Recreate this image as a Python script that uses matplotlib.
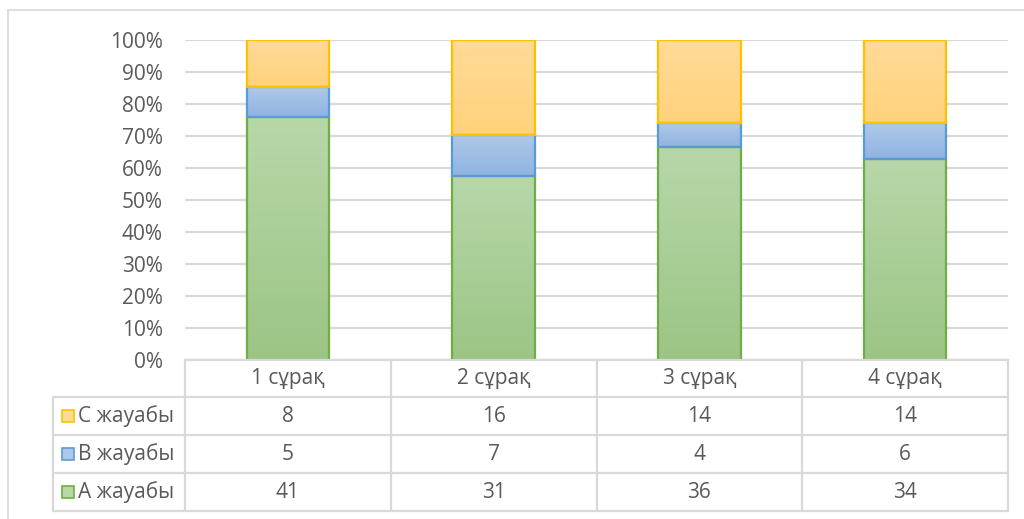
import numpy as np
import matplotlib
matplotlib.use("Agg")
import matplotlib.pyplot as plt
from matplotlib.lines import Line2D
from matplotlib.colors import LinearSegmentedColormap
from matplotlib.transforms import blended_transform_factory

plt.rcParams['font.family'] = ['Open Sans', 'Noto Sans', 'DejaVu Sans']

# data
categories = ['1 сұрақ', '2 сұрақ', '3 сұрақ', '4 сұрақ']
series_names = ['А жауабы', 'В жауабы', 'С жауабы']
a_counts = [41, 31, 36, 34]
b_counts = [5, 7, 4, 6]
c_counts = [8, 16, 14, 14]

# styles: (gradient top, gradient bottom, edge)
styles = {
    'А жауабы': ('#b7d7a9', '#9cc585', '#70ad47'),
    'В жауабы': ('#aec9e8', '#8fb3e2', '#5b9bd5'),
    'С жауабы': ('#ffda98', '#ffd27c', '#ffc000'),
}
text_col = '#595959'
line_col = '#d9d9d9'
fs = 15

W, H = 1024, 519
fig = plt.figure(figsize=(W / 100, H / 100), dpi=100)

def fx(px):
    return px / W

def fy(py):
    return 1 - py / H

# chart frame
fig.add_artist(Line2D([fx(8), 1], [fy(10), fy(10)], color=line_col, lw=1.2, transform=fig.transFigure))
fig.add_artist(Line2D([fx(8), fx(8)], [fy(10), 0], color=line_col, lw=1.2, transform=fig.transFigure))

ax_l, ax_r, ax_t, ax_b = 185, 1008, 40, 360
ax = fig.add_axes([fx(ax_l), fy(ax_b), fx(ax_r - ax_l), fy(ax_t) - fy(ax_b)])

counts = np.array([a_counts, b_counts, c_counts], dtype=float)
shares = counts / counts.sum(axis=0)
x = np.arange(len(categories))
bar_w = 0.40

bottom = np.zeros(len(categories))
for name, vals in zip(series_names, shares):
    top_c, bot_c, edge_c = styles[name]
    cmap = LinearSegmentedColormap.from_list(name, [bot_c, top_c])
    bars = ax.bar(x, vals, bar_w, bottom=bottom, facecolor='none', edgecolor=edge_c,
                  linewidth=1.6, zorder=3)
    for b in bars:
        x0, y0 = b.get_x(), b.get_y()
        img = ax.imshow(np.linspace(0, 1, 64).reshape(-1, 1), cmap=cmap, origin='lower',
                        extent=[x0, x0 + b.get_width(), y0, y0 + b.get_height()],
                        aspect='auto', zorder=2)
        img.set_clip_path(b)
    bottom += vals

ax.set_xlim(-0.5, len(categories) - 0.5)
ax.set_ylim(0, 1)
ax.set_yticks(np.arange(0, 1.01, 0.1))
ax.set_yticklabels([f'{int(round(v * 100))}%' for v in np.arange(0, 1.01, 0.1)])
ax.tick_params(axis='y', length=0, pad=16, labelsize=fs, labelcolor=text_col)
ax.set_xticks([])
ax.grid(axis='y', color=line_col, lw=1.6, zorder=0)
for s in ax.spines.values():
    s.set_visible(False)
ax.set_axisbelow(True)

# data table under the chart
trans = blended_transform_factory(ax.transData, fig.transFigure)
row_edges = [360, 397, 435, 473, 511]
left_px = 53
x_left = -0.5 - (ax_l - left_px) / ((ax_r - ax_l) / len(categories))
x_right = len(categories) - 0.5

kw = dict(color=line_col, lw=1.6, transform=trans, clip_on=False)
fig.add_artist(Line2D([-0.5, x_right], [fy(row_edges[0])] * 2, **kw))
for r in row_edges[1:]:
    fig.add_artist(Line2D([x_left, x_right], [fy(r)] * 2, **kw))
for k in range(len(categories) + 1):
    fig.add_artist(Line2D([k - 0.5, k - 0.5], [fy(row_edges[0]), fy(row_edges[-1])], **kw))
fig.add_artist(Line2D([x_left, x_left], [fy(row_edges[1]), fy(row_edges[-1])], **kw))

# header row
hy = fy((row_edges[0] + row_edges[1]) / 2)
for i, c in enumerate(categories):
    fig.text(i, hy, c, transform=trans, ha='center', va='center', fontsize=fs, color=text_col)

# body rows (top to bottom: C, B, A)
table_rows = [('С жауабы', c_counts), ('В жауабы', b_counts), ('А жауабы', a_counts)]
for j, (name, vals) in enumerate(table_rows):
    cy = fy((row_edges[j + 1] + row_edges[j + 2]) / 2)
    top_c, bot_c, edge_c = styles[name]
    fig.add_artist(Line2D([fx(68)], [cy], marker='s', markersize=9, markerfacecolor=top_c,
                          markeredgecolor=edge_c, markeredgewidth=1.2, transform=fig.transFigure))
    fig.text(fx(78), cy, name, ha='left', va='center', fontsize=fs, color=text_col)
    for i, v in enumerate(vals):
        fig.text(i, cy, str(v), transform=trans, ha='center', va='center', fontsize=fs,
                 color=text_col)

fig.savefig('out.png', dpi=100, facecolor='white')
